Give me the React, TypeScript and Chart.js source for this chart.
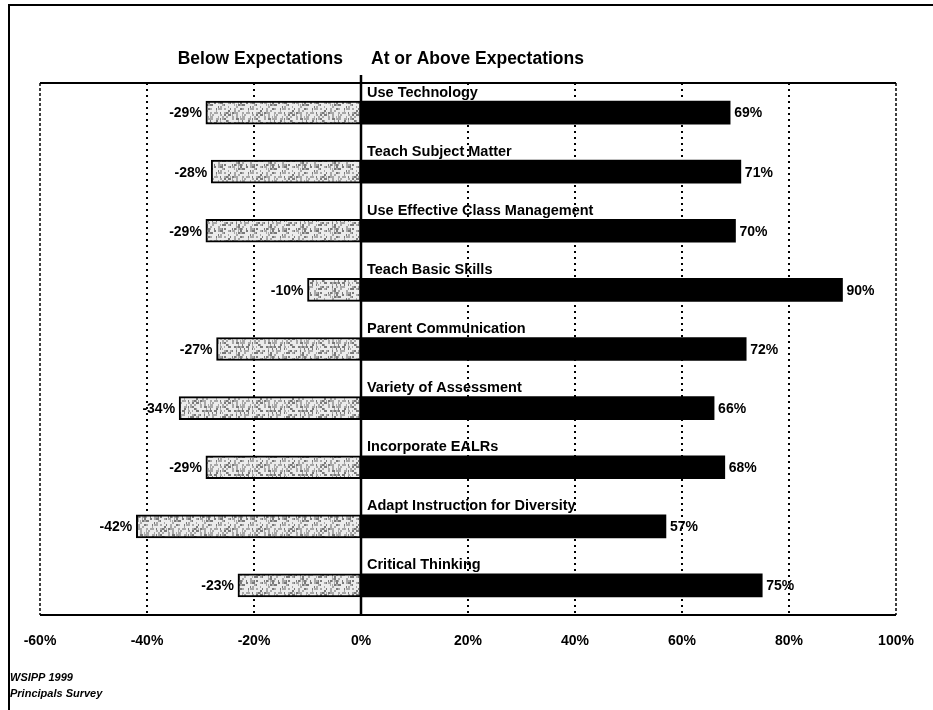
import React, { useEffect, useRef } from "react";
import { Chart, registerables } from "chart.js";

Chart.register(...registerables);

const categories = [
  "Use Technology",
  "Teach Subject Matter",
  "Use Effective Class Management",
  "Teach Basic Skills",
  "Parent Communication",
  "Variety of Assessment",
  "Incorporate EALRs",
  "Adapt Instruction for Diversity",
  "Critical Thinking",
];
const belowValues = [-29, -28, -29, -10, -27, -34, -29, -42, -23];
const aboveValues = [69, 71, 70, 90, 72, 66, 68, 57, 75];
const tickValues = [-60, -40, -20, 0, 20, 40, 60, 80, 100];
const headerLeft = "Below Expectations";
const headerRight = "At or Above Expectations";
const footnotes = ["WSIPP 1999", "Principals Survey"];

const FONT = "'Liberation Sans', Arial, sans-serif";

function makePattern(): CanvasPattern | string {
  const c = document.createElement("canvas");
  c.width = 32;
  c.height = 32;
  const g = c.getContext("2d");
  if (!g) return "#bbbbbb";
  g.fillStyle = "#ececec";
  g.fillRect(0, 0, 32, 32);
  for (let y = 0; y < 16; y++) {
    for (let x = 0; x < 16; x++) {
      const h = ((x * 374761393 + y * 668265263) ^ (x * y * 2654435761)) >>> 0;
      const v = (h >>> 13) % 10;
      if (v < 5) {
        g.fillStyle = v < 2 ? "#7a7a7a" : "#a8a8a8";
        g.fillRect(x * 2, y * 2, v % 2 === 0 ? 2 : 1, 2);
      }
    }
  }
  const ctx = document.createElement("canvas").getContext("2d");
  const p = ctx ? ctx.createPattern(c, "repeat") : null;
  return p || "#bbbbbb";
}

const decorPlugin = {
  id: "decor",
  beforeDraw(chart: any) {
    const ctx = chart.ctx;
    ctx.save();
    ctx.fillStyle = "#ffffff";
    ctx.fillRect(0, 0, chart.width, chart.height);
    ctx.strokeStyle = "#000";
    ctx.lineWidth = 2;
    ctx.beginPath();
    ctx.moveTo(9, chart.height);
    ctx.lineTo(9, 5);
    ctx.lineTo(chart.width, 5);
    ctx.stroke();
    ctx.restore();
  },
  beforeDatasetsDraw(chart: any) {
    const ctx = chart.ctx;
    const xs = chart.scales.x;
    const area = chart.chartArea;
    ctx.save();
    ctx.strokeStyle = "#000";
    ctx.lineWidth = 2;
    ctx.setLineDash([2, 4]);
    tickValues.forEach((v) => {
      if (v === 0 || v === tickValues[0] || v === tickValues[tickValues.length - 1]) return;
      const px = Math.round(xs.getPixelForValue(v));
      ctx.beginPath();
      ctx.moveTo(px, area.top);
      ctx.lineTo(px, area.bottom);
      ctx.stroke();
    });
    ctx.lineWidth = 1.5;
    ctx.setLineDash([3, 2]);
    [tickValues[0], tickValues[tickValues.length - 1]].forEach((v) => {
      const px = Math.round(xs.getPixelForValue(v));
      ctx.beginPath();
      ctx.moveTo(px, area.top);
      ctx.lineTo(px, area.bottom);
      ctx.stroke();
    });
    ctx.setLineDash([]);
    ctx.lineWidth = 2;
    ctx.beginPath();
    ctx.moveTo(area.left, area.top);
    ctx.lineTo(area.right, area.top);
    ctx.moveTo(area.left, area.bottom);
    ctx.lineTo(area.right, area.bottom);
    ctx.stroke();
    ctx.restore();
  },
  afterDatasetsDraw(chart: any) {
    const ctx = chart.ctx;
    const xs = chart.scales.x;
    const ys = chart.scales.y;
    const area = chart.chartArea;
    const zero = xs.getPixelForValue(0);
    ctx.save();
    ctx.strokeStyle = "#000";
    ctx.lineWidth = 2.5;
    ctx.beginPath();
    ctx.moveTo(zero, area.top - 8);
    ctx.lineTo(zero, area.bottom);
    ctx.stroke();

    ctx.fillStyle = "#000";
    ctx.font = `bold 17.5px ${FONT}`;
    ctx.textBaseline = "middle";
    ctx.textAlign = "right";
    ctx.fillText(headerLeft, zero - 18, 59);
    ctx.textAlign = "left";
    ctx.fillText(headerRight, zero + 10, 59);

    ctx.font = `bold 14.5px ${FONT}`;
    ctx.textAlign = "left";
    categories.forEach((c, i) => {
      const y = ys.getPixelForValue(i);
      ctx.fillText(c, zero + 6, y - 20);
    });

    ctx.font = `bold 14px ${FONT}`;
    const m0 = chart.getDatasetMeta(0);
    const m1 = chart.getDatasetMeta(1);
    belowValues.forEach((v, i) => {
      const el = m0.data[i];
      ctx.textAlign = "right";
      ctx.fillText(v + "%", el.x - 4, el.y + 1);
    });
    aboveValues.forEach((v, i) => {
      const el = m1.data[i];
      ctx.textAlign = "left";
      ctx.fillText(v + "%", el.x + 4, el.y + 1);
    });

    ctx.font = `italic bold 11px ${FONT}`;
    ctx.textAlign = "left";
    ctx.fillText(footnotes[0], 10, 678);
    ctx.fillText(footnotes[1], 10, 694);
    ctx.restore();
  },
};

export default function App() {
  const ref = useRef<HTMLCanvasElement | null>(null);
  useEffect(() => {
    if (!ref.current) return;
    const pattern = makePattern();
    const chart = new Chart(ref.current, {
      type: "bar",
      data: {
        labels: categories,
        datasets: [
          {
            label: headerLeft,
            data: belowValues,
            backgroundColor: pattern as any,
            borderColor: "#000",
            borderWidth: 2,
            borderSkipped: false,
            barThickness: 23,
          },
          {
            label: headerRight,
            data: aboveValues,
            backgroundColor: "#000",
            borderWidth: 0,
            barThickness: 23,
          },
        ],
      },
      options: {
        indexAxis: "y",
        responsive: false,
        animation: false,
        layout: { padding: { left: 40, right: 37, top: 83, bottom: 0 } },
        plugins: {
          legend: { display: false },
          tooltip: { enabled: false },
          title: { display: false },
        },
        scales: {
          x: {
            type: "linear",
            stacked: true,
            min: -60,
            max: 100,
            grid: { display: false, drawTicks: false },
            border: { display: false },
            afterFit: (s: any) => {
              s.height = 95;
            },
            afterBuildTicks: (s: any) => {
              s.ticks = tickValues.map((v) => ({ value: v }));
            },
            ticks: {
              padding: 18,
              color: "#000",
              font: { family: FONT, size: 14, weight: "bold" },
              maxRotation: 0,
              callback: (v: any) => v + "%",
            },
          },
          y: {
            type: "category",
            stacked: true,
            display: false,
            grid: { display: false },
          },
        },
      },
      plugins: [decorPlugin],
    });
    return () => chart.destroy();
  }, []);
  return (
    <div style={{ position: "absolute", left: 0, top: 0, width: 933, height: 710, background: "#fff" }}>
      <canvas ref={ref} width={933} height={710} style={{ display: "block" }} />
    </div>
  );
}
